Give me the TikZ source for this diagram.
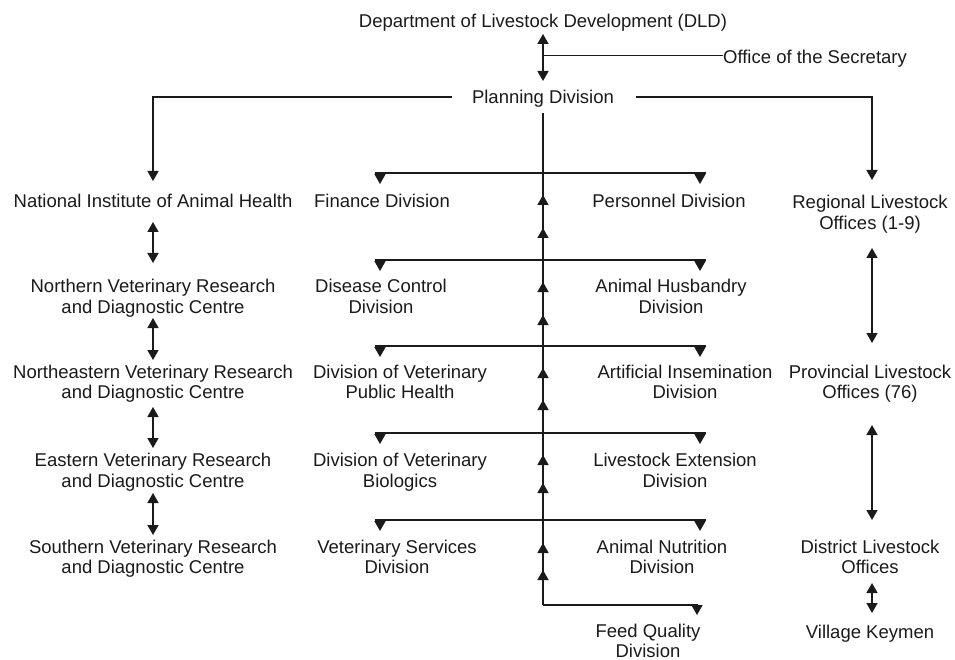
\documentclass[tikz,border=0pt]{standalone}
\usepackage{fontspec}
\setmainfont{Liberation Sans}
\usetikzlibrary{arrows.meta,calc,decorations.markings}
\definecolor{ink}{HTML}{1A1A1A}
\tikzset{
  lbl/.style={font=\fontsize{18.5}{20.5}\selectfont, align=center, inner sep=0pt, text=ink,
    execute at begin node=\strut, execute at end node=\strut},
  tip/.tip={Triangle[length=10pt,width=11pt]},
  ln/.style={line width=1.5pt, draw=ink},
  arr/.style={ln, -tip},
  dbl/.style={ln, tip-tip},
}
\begin{document}
\begin{tikzpicture}[x=1pt,y=-1pt]
\useasboundingbox (0,0) rectangle (955,660);
% top
\node[lbl] (dld) at (543,23.5) {Department of Livestock Development (DLD)};
\node[lbl] (office) at (815,59.5) {Office of the Secretary};
\node[lbl] (planning) at (543,99.5) {Planning Division};
% left column
\node[lbl] (niah) at (153,203.5) {National Institute of Animal Health};
\node[lbl] (north) at (153,299.5) {Northern Veterinary Research\\and Diagnostic Centre};
\node[lbl] (neast) at (153,385) {Northeastern Veterinary Research\\and Diagnostic Centre};
\node[lbl] (east) at (153,473.5) {Eastern Veterinary Research\\and Diagnostic Centre};
\node[lbl] (south) at (153,560) {Southern Veterinary Research\\and Diagnostic Centre};
% middle left
\node[lbl] (finance) at (382,203.5) {Finance Division};
\node[lbl] (disease) at (381,299.5) {Disease Control\\Division};
\node[lbl] (dvph) at (400,385) {Division of Veterinary\\Public Health};
\node[lbl] (dvb) at (400,473.5) {Division of Veterinary\\Biologics};
\node[lbl] (vsd) at (397,560) {Veterinary Services\\Division};
% middle right
\node[lbl] (personnel) at (669,203.5) {Personnel Division};
\node[lbl] (husbandry) at (671,299.5) {Animal Husbandry\\Division};
\node[lbl] (ai) at (685,385) {Artificial Insemination\\Division};
\node[lbl] (ext) at (675,473.5) {Livestock Extension\\Division};
\node[lbl] (nutrition) at (662,560) {Animal Nutrition\\Division};
\node[lbl] (feed) at (648,644) {Feed Quality\\Division};
% right column
\node[lbl] (regional) at (870,215.5) {Regional Livestock\\Offices (1-9)};
\node[lbl] (provincial) at (870,385) {Provincial Livestock\\Offices (76)};
\node[lbl] (district) at (870,560) {District Livestock\\Offices};
\node[lbl] (village) at (870,634.5) {Village Keymen};

% DLD <-> Planning, Office of the Secretary
\draw[dbl] ($(dld)+(0,10.5)$) -- ($(planning)+(0,-18.5)$);
\coordinate (o1) at ($(office.west)+(0,-4)$);
\draw[ln] (dld |- o1) -- (o1);
% Planning to left and right
\draw[arr] ($(planning.west)+(-20,-2.5)$) -| ($(niah)+(0,-22.5)$);
\draw[arr] ($(planning.east)+(22,-2.5)$) -| ($(regional)+(2,-35.5)$);
% main vertical spine with upward arrowheads
\coordinate (mb) at ($(feed)+(-105,-39)$);
\draw[ln, postaction={decorate}, decoration={markings,
   mark=at position 35pt with {\arrow{tip}},
   mark=at position 62pt with {\arrow{tip}},
   mark=at position 122pt with {\arrow{tip}},
   mark=at position 150pt with {\arrow{tip}},
   mark=at position 205pt with {\arrow{tip}},
   mark=at position 237pt with {\arrow{tip}},
   mark=at position 290pt with {\arrow{tip}},
   mark=at position 323pt with {\arrow{tip}},
   mark=at position 377pt with {\arrow{tip}},
   mark=at position 410pt with {\arrow{tip}}}]
   (mb) -- ($(planning)+(0,14)$);
\draw[arr] (mb) -| ($(feed)+(49,-29)$);
% branches
\foreach \yb in {173,260,346,433,520}{
  \coordinate (bl) at (374.5,\yb);
  \coordinate (br) at (705.5,\yb);
  \draw[ln] (bl) -- (br);
  \draw[arr] ($(bl)+(5.5,0)$) -- ($(bl)+(5.5,11)$);
  \draw[arr] ($(br)+(-5.5,0)$) -- ($(br)+(-5.5,11)$);
}
% left column links
\draw[dbl] ($(niah)+(0,18.5)$) -- ($(north)+(0,-36.5)$);
\draw[dbl] ($(north)+(0,18.5)$) -- ($(neast)+(0,-25)$);
\draw[dbl] ($(neast)+(0,22)$) -- ($(east)+(0,-25.5)$);
\draw[dbl] ($(east)+(0,19.5)$) -- ($(south)+(0,-25)$);
% right column links
\draw[dbl] ($(regional)+(2,32.5)$) -- ($(provincial)+(2,-42)$);
\draw[dbl] ($(provincial)+(2,40)$) -- ($(district)+(2,-40)$);
\draw[dbl] ($(district)+(2,23)$) -- ($(village)+(2,-21.5)$);
\end{tikzpicture}
\end{document}
